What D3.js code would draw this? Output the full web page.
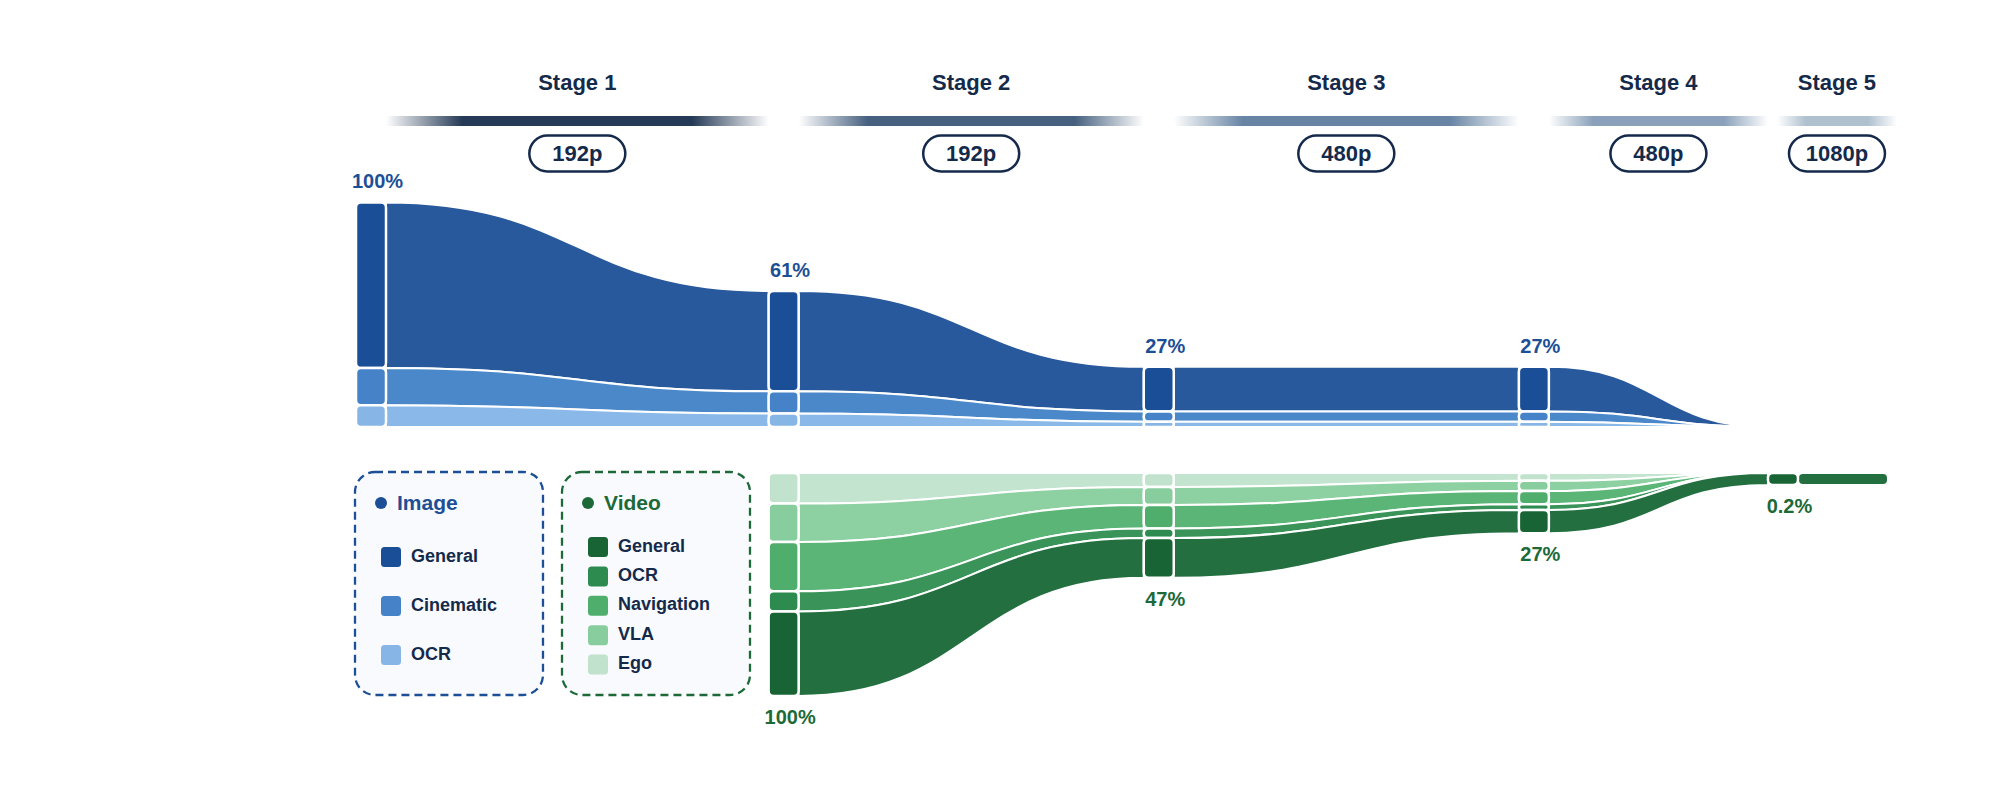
<!DOCTYPE html>
<html><head><meta charset="utf-8">
<script src="https://cdn.jsdelivr.net/npm/d3@7"></script>
<style>
html,body{margin:0;padding:0;background:#fff;}
svg{display:block;font-family:"Liberation Sans",Arial,Helvetica,sans-serif;}
</style>
</head><body>
<svg id="chart" width="2008" height="808"></svg>
<script>
// ---------------- DATA ----------------
const stages = ["Stage 1", "Stage 2", "Stage 3", "Stage 4", "Stage 5"];
const resolutions = ["192p", "192p", "480p", "480p", "1080p"];

const imageCategories = ["General", "Cinematic", "OCR"];
const imageGeneral   = [74.2, 45, 20, 20, 0];
const imageCinematic = [16.8, 10, 4.7, 4.7, 0];
const imageOCR       = [9.7, 6, 2.3, 2.3, 0];
const imageTotalLabels = ["100%", "61%", "27%", "27%", ""];

const videoCategories = ["General", "OCR", "Navigation", "VLA", "Ego"];
const videoGeneral    = [null, 37.9, 17.8, 10.4, 0.2];
const videoOCR        = [null, 9.1, 4.3, 2.6, 0];
const videoNavigation = [null, 22.1, 10.5, 5.9, 0];
const videoVLA        = [null, 17.2, 8.1, 4.6, 0];
const videoEgo        = [null, 13.7, 6.3, 3.5, 0];
const videoTotalLabels = ["", "100%", "47%", "27%", "0.2%"];

// ---------------- STYLE / LAYOUT ----------------
const stageWeight = [1.1, 1, 1, 0.664, 0.32];   // relative horizontal length of each stage
const stageBarColors = ["#253a56", "#46607f", "#6784a4", "#8ba1bb", "#afc0cf"];
const imageNodeColors = {General: "#1a4f97", Cinematic: "#4682c8", OCR: "#86b5e6"};
const imageLinkColors = {General: "#27599c", Cinematic: "#4a88ca", OCR: "#8ab8e8"};
const videoNodeColors = {General: "#186434", OCR: "#2e8b50", Navigation: "#4fae6b", VLA: "#88cd9d", Ego: "#c1e3cd"};
const videoLinkColors = {General: "#236f3f", OCR: "#3a9459", Navigation: "#5bb577", VLA: "#8dd0a1", Ego: "#c3e4cf"};
const navy = "#152a4b";
const imageBlue = "#1d4f96";
const videoGreen = "#1d6a38";

const svg = d3.select("#chart");
const defs = svg.append("defs");

const cum = [0];
stageWeight.forEach((w, i) => cum.push(cum[i] + w));
const x = d3.scaleLinear().domain([0, cum[cum.length - 1]]).range([356, 1888]);
const nodeW = 30;
const nodeX = stages.map((s, i) => x(cum[i]));
const tailEnd = x(cum[stages.length]);

const y = d3.scaleLinear().domain([0, 100]).range([0, 223]);
const bandH = v => (v == null) ? null : (v > 0 && v < 1 ? 12 : y(v));
const imageBase = 427, videoTop = 473;

// stacks: series listed top -> bottom
const imageSeries = [
  {name: "General", values: imageGeneral},
  {name: "Cinematic", values: imageCinematic},
  {name: "OCR", values: imageOCR}
];
const videoSeries = [
  {name: "Ego", values: videoEgo},
  {name: "VLA", values: videoVLA},
  {name: "Navigation", values: videoNavigation},
  {name: "OCR", values: videoOCR},
  {name: "General", values: videoGeneral}
];

function stackFromBottom(series, base) {
  series.forEach(s => s.pos = []);
  stages.forEach((st, i) => {
    let cur = base;
    for (let k = series.length - 1; k >= 0; k--) {
      const v = series[k].values[i];
      if (v == null) { series[k].pos[i] = null; continue; }
      const hh = bandH(v);
      series[k].pos[i] = {top: cur - hh, bot: cur, v: v};
      cur -= hh;
    }
  });
}
function stackFromTop(series, top) {
  series.forEach(s => s.pos = []);
  stages.forEach((st, i) => {
    let cur = top;
    for (let k = 0; k < series.length; k++) {
      const v = series[k].values[i];
      if (v == null) { series[k].pos[i] = null; continue; }
      const hh = bandH(v);
      series[k].pos[i] = {top: cur, bot: cur + hh, v: v};
      cur += hh;
    }
  });
}
stackFromBottom(imageSeries, imageBase);
stackFromTop(videoSeries, videoTop);

// ---------------- HEADER ----------------
const header = svg.append("g");
stages.forEach((s, i) => {
  const last = i === stages.length - 1;
  const a = last ? nodeX[i] + 9 : nodeX[i] + nodeW;
  const b = last ? tailEnd + 9 : nodeX[i + 1];
  const cx = (a + b) / 2;
  const fade = last ? 0.24 : 0.2;
  const g = defs.append("linearGradient").attr("id", "sg" + i)
    .attr("x1", "0%").attr("x2", "100%").attr("y1", "0%").attr("y2", "0%");
  [[0, 0], [fade, 1], [1 - fade, 1], [1, 0]].forEach(([o, op]) =>
    g.append("stop").attr("offset", (o * 100) + "%")
      .attr("stop-color", stageBarColors[i]).attr("stop-opacity", op));
  header.append("rect").attr("x", a).attr("y", 116).attr("width", b - a).attr("height", 10)
    .attr("fill", `url(#sg${i})`);
  header.append("text").attr("x", cx).attr("y", 90).attr("text-anchor", "middle")
    .attr("font-size", 22).attr("font-weight", 700).attr("fill", navy).text(s);
  header.append("rect").attr("x", cx - 48).attr("y", 135.5).attr("width", 96).attr("height", 36)
    .attr("rx", 18).attr("fill", "#fff").attr("stroke", navy).attr("stroke-width", 2.5);
  header.append("text").attr("x", cx).attr("y", 161).attr("text-anchor", "middle")
    .attr("font-size", 22).attr("font-weight", 700).attr("fill", navy).text(resolutions[i]);
});

// ---------------- FLOWS ----------------
const area = d3.area().x(d => d.x).y0(d => d.y0).y1(d => d.y1).curve(d3.curveBumpX);

function drawGroup(series, linkColors, nodeColors) {
  const gl = svg.append("g");
  series.forEach(s => {
    for (let i = 0; i < stages.length - 1; i++) {
      const a = s.pos[i], b = s.pos[i + 1];
      if (!a || !b || !(a.v > 0)) continue;
      const pts = [
        {x: nodeX[i] + nodeW, y0: a.bot, y1: a.top},
        {x: nodeX[i + 1], y0: b.bot, y1: b.top}
      ];
      gl.append("path").attr("d", area(pts)).attr("fill", linkColors[s.name])
        .attr("stroke", "#fff").attr("stroke-width", 2).attr("stroke-linejoin", "round");
    }
    const lastI = stages.length - 1;
    const p = s.pos[lastI];
    if (p && p.v > 0) {
      const x0 = nodeX[lastI] + nodeW;
      gl.append("rect").attr("x", x0).attr("y", p.top).attr("width", tailEnd - x0)
        .attr("height", p.bot - p.top).attr("rx", 5).attr("fill", linkColors[s.name])
        .attr("stroke", "#fff").attr("stroke-width", 2);
    }
  });
  const gn = svg.append("g");
  series.forEach(s => {
    s.pos.forEach((p, i) => {
      if (!p || !(p.v > 0)) return;
      const hh = p.bot - p.top;
      gn.append("rect").attr("x", nodeX[i]).attr("y", p.top).attr("width", nodeW).attr("height", hh)
        .attr("rx", Math.min(5, hh / 2)).attr("fill", nodeColors[s.name])
        .attr("stroke", "#fff").attr("stroke-width", 2.5);
    });
  });
}
drawGroup(imageSeries, imageLinkColors, imageNodeColors);
drawGroup(videoSeries, videoLinkColors, videoNodeColors);

// percentage labels
const labels = svg.append("g").attr("font-size", 20).attr("font-weight", 700).attr("text-anchor", "middle");
imageTotalLabels.forEach((t, i) => {
  const p = imageSeries[0].pos[i];
  if (!t || !p) return;
  labels.append("text").attr("x", nodeX[i] + nodeW / 2 + 6.5).attr("y", p.top - 14)
    .attr("fill", imageBlue).text(t);
});
videoTotalLabels.forEach((t, i) => {
  const p = videoSeries[videoSeries.length - 1].pos[i];
  if (!t || !p) return;
  labels.append("text").attr("x", nodeX[i] + nodeW / 2 + 6.5).attr("y", p.bot + 28)
    .attr("fill", videoGreen).text(t);
});

// ---------------- LEGENDS ----------------
function legend(bx, title, color, cats, colors, itemTop, itemStep) {
  const g = svg.append("g");
  g.append("rect").attr("x", bx).attr("y", 472).attr("width", 188).attr("height", 223)
    .attr("rx", 20).attr("fill", "#f8fafd").attr("stroke", color).attr("stroke-width", 2.3)
    .attr("stroke-dasharray", "8,5");
  g.append("circle").attr("cx", bx + 26).attr("cy", 503).attr("r", 6).attr("fill", color);
  g.append("text").attr("x", bx + 42).attr("y", 510).attr("font-size", 21).attr("font-weight", 700)
    .attr("fill", color).text(title);
  cats.forEach((c, j) => {
    const cy = itemTop + j * itemStep;
    g.append("rect").attr("x", bx + 26).attr("y", cy - 10).attr("width", 20).attr("height", 20)
      .attr("rx", 3.5).attr("fill", colors[c]);
    g.append("text").attr("x", bx + 56).attr("y", cy + 4.5).attr("font-size", 18)
      .attr("font-weight", 700).attr("fill", navy).text(c);
  });
}
legend(355, "Image", imageBlue, imageCategories, imageNodeColors, 557, 49);
legend(562, "Video", videoGreen, videoCategories, videoNodeColors, 547, 29.4);
</script>
</body></html>
